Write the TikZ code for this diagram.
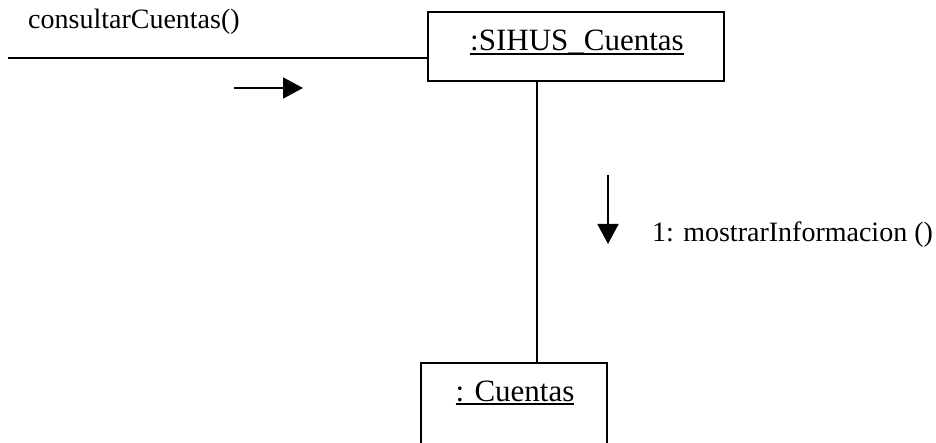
\documentclass[tikz,border=0pt]{standalone}
\usepackage{fontspec}
\setmainfont{Liberation Serif}
\usetikzlibrary{arrows.meta}
\newcommand\myul[1]{\setbox0\hbox{#1}\rlap{\rule[-4pt]{\wd0}{2pt}}\box0}
\begin{document}
\begin{tikzpicture}[x=1pt,y=-1pt,
  objbox/.style={draw,line width=2pt,inner sep=0pt,minimum height=69pt},
  objtext/.style={anchor=base,inner sep=0pt,font=\fontsize{31}{36}\selectfont},
  msgtext/.style={anchor=base west,inner sep=0pt,font=\fontsize{28}{33}\selectfont},
  link/.style={line width=1.8pt},
  msgarrow/.style={line width=1.8pt,-{Triangle[length=20pt,width=21pt]}}]
\useasboundingbox (0,0) rectangle (936,443);
% objects
\node[objbox,minimum width=296pt] (top) at (576,46.5) {};
\node[objtext] (toptext) at (577,51) {\myul{:SIHUS\_Cuentas}};
\node[objbox,minimum width=186pt,minimum height=90pt] (bot) at (514,408) {};
\node[objtext] (bottext) at (515,401) {\myul{: Cuentas}};
% links
\coordinate (in) at (8,58);
\draw[link] (in) -- (top.west |- in);
\coordinate (v) at (537,0);
\draw[link] (top.south -| v) -- (bot.north -| v);
% messages
\node[msgtext] (m0) at (28,29) {consultarCuentas()};
\coordinate (a0s) at (234,88);
\coordinate (a0e) at (303,88);
\draw[msgarrow] (a0s) -- (a0e);
\node[msgtext] (m1) at (652,242) {1: mostrarInformacion ()};
\coordinate (a1s) at (608,175);
\coordinate (a1e) at (608,244);
\draw[msgarrow] (a1s) -- (a1e);
\end{tikzpicture}
\end{document}
